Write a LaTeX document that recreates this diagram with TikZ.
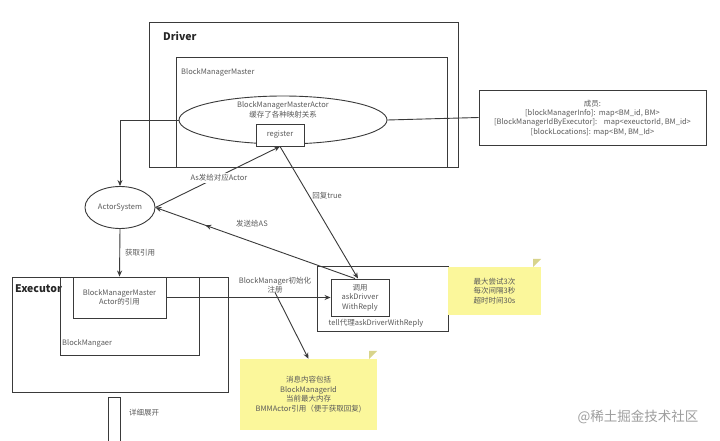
\documentclass[tikz,border=0pt]{standalone}
\usepackage{fontspec}
\setmainfont{Noto Sans CJK SC}
\usetikzlibrary{arrows.meta,shapes.geometric,decorations.markings}
\definecolor{linec}{HTML}{3A3A3A}
\definecolor{txt}{HTML}{5A5A5A}
\definecolor{notey}{HTML}{FBF79B}
\definecolor{notefold}{HTML}{D8D48C}
\begin{document}
\begin{tikzpicture}[x=1pt,y=-1pt,
  every node/.style={font=\fontsize{7.5}{9.4}\selectfont, text=txt},
  boxn/.style={draw=linec, line width=0.9pt, rectangle, inner sep=0pt},
  elln/.style={draw=linec, line width=0.9pt, ellipse, inner sep=0pt},
  lbl/.style={inner sep=0pt, align=center},
  titlel/.style={inner sep=0pt, anchor=west, font=\fontsize{10.5}{12}\selectfont\bfseries, text=black!85},
  conn/.style={draw=linec, line width=0.9pt},
  arr/.style={conn, -{Stealth[length=6pt,width=5pt]}},
  notebox/.style={rectangle, fill=notey, inner sep=0pt, align=center}
]
\useasboundingbox (0,0) rectangle (720,441);
\fill[white] (0,0) rectangle (720,441);

% Driver
\node[boxn, minimum width=309, minimum height=145] (driver) at (303.5,94.5) {};
\node[titlel] (driverl) at (163,36) {Driver};
\node[boxn, minimum width=271, minimum height=110] (bmm) at (311.5,112) {};
\node[lbl, anchor=west] (bmml) at (181,72) {BlockManagerMaster};
\node[elln, minimum width=208, minimum height=48, fill=white] (bmma) at (283,120) {};
\node[lbl] (bmmal) at (283,110) {BlockManagerMasterActor\\缓存了各种映射关系};
\node[boxn, minimum width=48, minimum height=22, fill=white] (reg) at (280,135) {register};

% members
\node[boxn, minimum width=227, minimum height=55] (mem) at (592.5,117.5) {};
\node[lbl] (meml) at (592.5,118) {成员:\\{[}blockManagerInfo{]}:\ \ map<BM\_id, BM>\\{[}BlockManagerIdByExecutor{]}:\ \ \ \ map<exeuctorId, BM\_id>\\{[}blockLocations{]}: map<BM, BM\_Id>};
\draw[conn] (bmma.east) -- (mem.west);

% ActorSystem
\node[elln, minimum width=70, minimum height=42] (as) at (120,207.5) {ActorSystem};
\draw[arr] (bmma.west) -| (as.north);

% Executor
\node[boxn, minimum width=216, minimum height=115] (exec) at (120,334.5) {};
\node[titlel] (execl) at (15,289) {Executor};
\node[boxn, minimum width=139, minimum height=78] (bm) at (129.5,316) {};
\node[lbl, anchor=west] (bml) at (62,343) {BlockMangaer};
\node[boxn, minimum width=93, minimum height=41, align=center] (bmref) at (119.5,297.5) {BlockManagerMaster\\Actor的引用};

\draw[arr] (as.south) -- node[lbl, anchor=west, xshift=5pt] (getref) {获取引用} (bmref.north);

% tell box
\node[boxn, minimum width=131, minimum height=65] (tell) at (382.5,298.5) {};
\node[boxn, minimum width=58, minimum height=37, align=center] (call) at (360,297.5) {调用\\askDrivver\\WithReply};
\node[lbl] (telll) at (376,323.5) {tell代理askDriverWithReply};

\draw[arr] (bmref.east) -- (call.west);
\node[lbl] (initl) at (275,285) {BlockManager初始化\\注册};

% connectors to/from register
\draw[arr] (as.east) -- (reg.south);
\node[lbl, fill=white, inner sep=1pt] (asl) at (219,178) {As发给对应Actor};
\draw[arr] (reg.south) -- ([xshift=-2pt]call.north);
\node[lbl] (retl) at (327,196) {回复true};
\draw[arr, postaction={decorate}, decoration={markings, mark=at position 0.75 with {\arrow{Stealth[length=6pt,width=5pt]}}}] ([xshift=-5pt]call.north) -- (as.east);
\node[lbl] (sendl) at (252,224) {发送给AS};

% notes
\node[notebox, minimum width=137, minimum height=71] (note1) at (308.5,394.5) {消息内容包括\\BlockManagerId\\当前最大内存\\BMMActor引用（便于获取回复)};
\fill[white] ([xshift=-8pt]note1.north east) -- (note1.north east) -- ([yshift=8pt]note1.north east) -- cycle;
\fill[notefold] ([xshift=-8pt]note1.north east) -- ([xshift=-8pt,yshift=8pt]note1.north east) -- ([yshift=8pt]note1.north east) -- cycle;

\node[notebox, minimum width=93, minimum height=48] (note2) at (494.5,291) {最大尝试3次\\每次间隔3秒\\超时时间30s};
\fill[white] ([xshift=-8pt]note2.north east) -- (note2.north east) -- ([yshift=8pt]note2.north east) -- cycle;
\fill[notefold] ([xshift=-8pt]note2.north east) -- ([xshift=-8pt,yshift=8pt]note2.north east) -- ([yshift=8pt]note2.north east) -- cycle;

\draw[arr] ([yshift=1pt]initl.south) -- (note1.north);

% detail expand
\coordinate (dl) at (108,441);
\coordinate (dr) at (120,441);
\draw[conn] (dl) |- (120,397) -- (dr);
\node[lbl, anchor=west] (detl) at (129,413) {详细展开};

% watermark
\node[lbl, font=\fontsize{13.5}{15}\selectfont, text=black!38] (wm) at (638,417) {@稀土掘金技术社区};
\end{tikzpicture}
\end{document}
